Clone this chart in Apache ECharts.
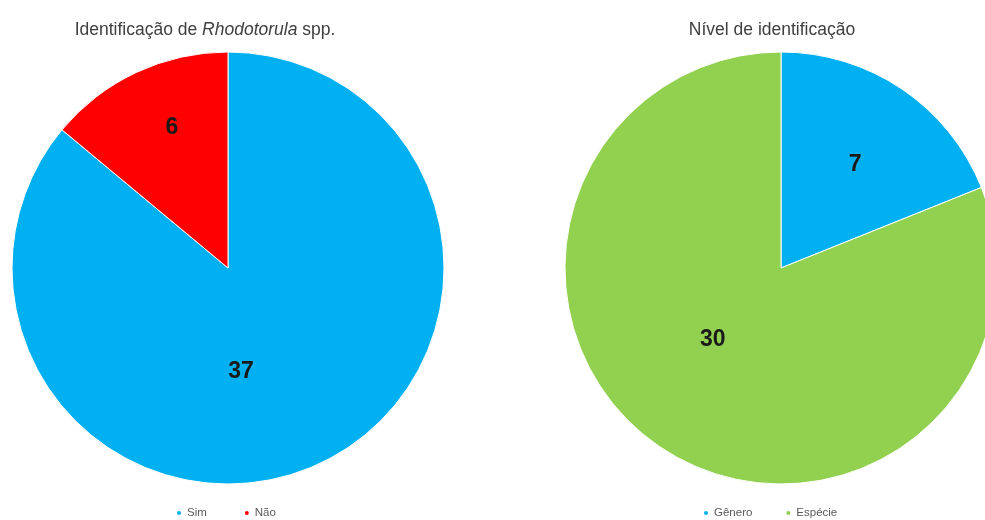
<!DOCTYPE html>
<html>
<head>
<meta charset="utf-8">
<script src="https://cdn.jsdelivr.net/npm/echarts@6/dist/echarts.min.js"></script>
<style>
  html, body { margin: 0; padding: 0; background: #ffffff; }
  #chart { width: 985px; height: 520px; }
</style>
</head>
<body>
<div id="chart"></div>
<script>
// Identification of Rhodotorula spp.
var idCategories = ['Sim', 'Não'];
var idValues = [37, 6];

// Identification level
var levelCategories = ['Gênero', 'Espécie'];
var levelValues = [7, 30];

var idColors = ['#00B0F0', '#FF0000'];
var levelColors = ['#00B0F0', '#92D050'];

// nudges for the value labels inside each slice
var idLabelOffsets = [[-34, 3], [-9, -40]];
var levelLabelOffsets = [[12, -11], [-6, -20]];

function buildData(names, values, colors, offsets) {
  return names.map(function (n, i) {
    return {
      name: n,
      value: values[i],
      itemStyle: { color: colors[i] },
      label: { offset: offsets[i] }
    };
  });
}

var fontFamily = 'Liberation Sans, Arial, sans-serif';

var labelStyle = {
  show: true,
  position: 'inside',
  formatter: '{c}',
  fontSize: 23,
  fontWeight: 'bold',
  color: '#1a1a1a',
  fontFamily: fontFamily
};

var chart = echarts.init(document.getElementById('chart'), null, { renderer: 'canvas' });

chart.setOption({
  animation: false,
  title: [
    {
      text: 'Identificação de {i|Rhodotorula} spp.',
      left: 200, top: 16, textAlign: 'center',
      textStyle: {
        fontSize: 17.5, fontWeight: 'normal', color: '#404040', fontFamily: fontFamily,
        rich: { i: { fontSize: 17.5, fontStyle: 'italic', color: '#404040', fontFamily: fontFamily } }
      }
    },
    {
      text: 'Nível de identificação',
      left: 767, top: 16, textAlign: 'center',
      textStyle: { fontSize: 17.5, fontWeight: 'normal', color: '#404040', fontFamily: fontFamily }
    }
  ],
  legend: [
    {
      data: idCategories,
      left: 170, top: 502,
      icon: 'circle', itemWidth: 6, itemHeight: 6, itemGap: 36,
      textStyle: { fontSize: 11.5, color: '#595959', fontFamily: fontFamily }
    },
    {
      data: levelCategories,
      left: 697, top: 502,
      icon: 'circle', itemWidth: 6, itemHeight: 6, itemGap: 32,
      textStyle: { fontSize: 11.5, color: '#595959', fontFamily: fontFamily }
    }
  ],
  series: [
    {
      name: 'Identificação',
      type: 'pie',
      center: [228, 268],
      radius: [0, 216],
      startAngle: 90,
      clockwise: true,
      label: labelStyle,
      labelLine: { show: false },
      itemStyle: { borderColor: '#ffffff', borderWidth: 1 },
      emphasis: { disabled: true },
      data: buildData(idCategories, idValues, idColors, idLabelOffsets)
    },
    {
      name: 'Nível',
      type: 'pie',
      center: [781, 268],
      radius: [0, 216],
      startAngle: 90,
      clockwise: true,
      label: labelStyle,
      labelLine: { show: false },
      itemStyle: { borderColor: '#ffffff', borderWidth: 1 },
      emphasis: { disabled: true },
      data: buildData(levelCategories, levelValues, levelColors, levelLabelOffsets)
    }
  ]
});
</script>
</body>
</html>
